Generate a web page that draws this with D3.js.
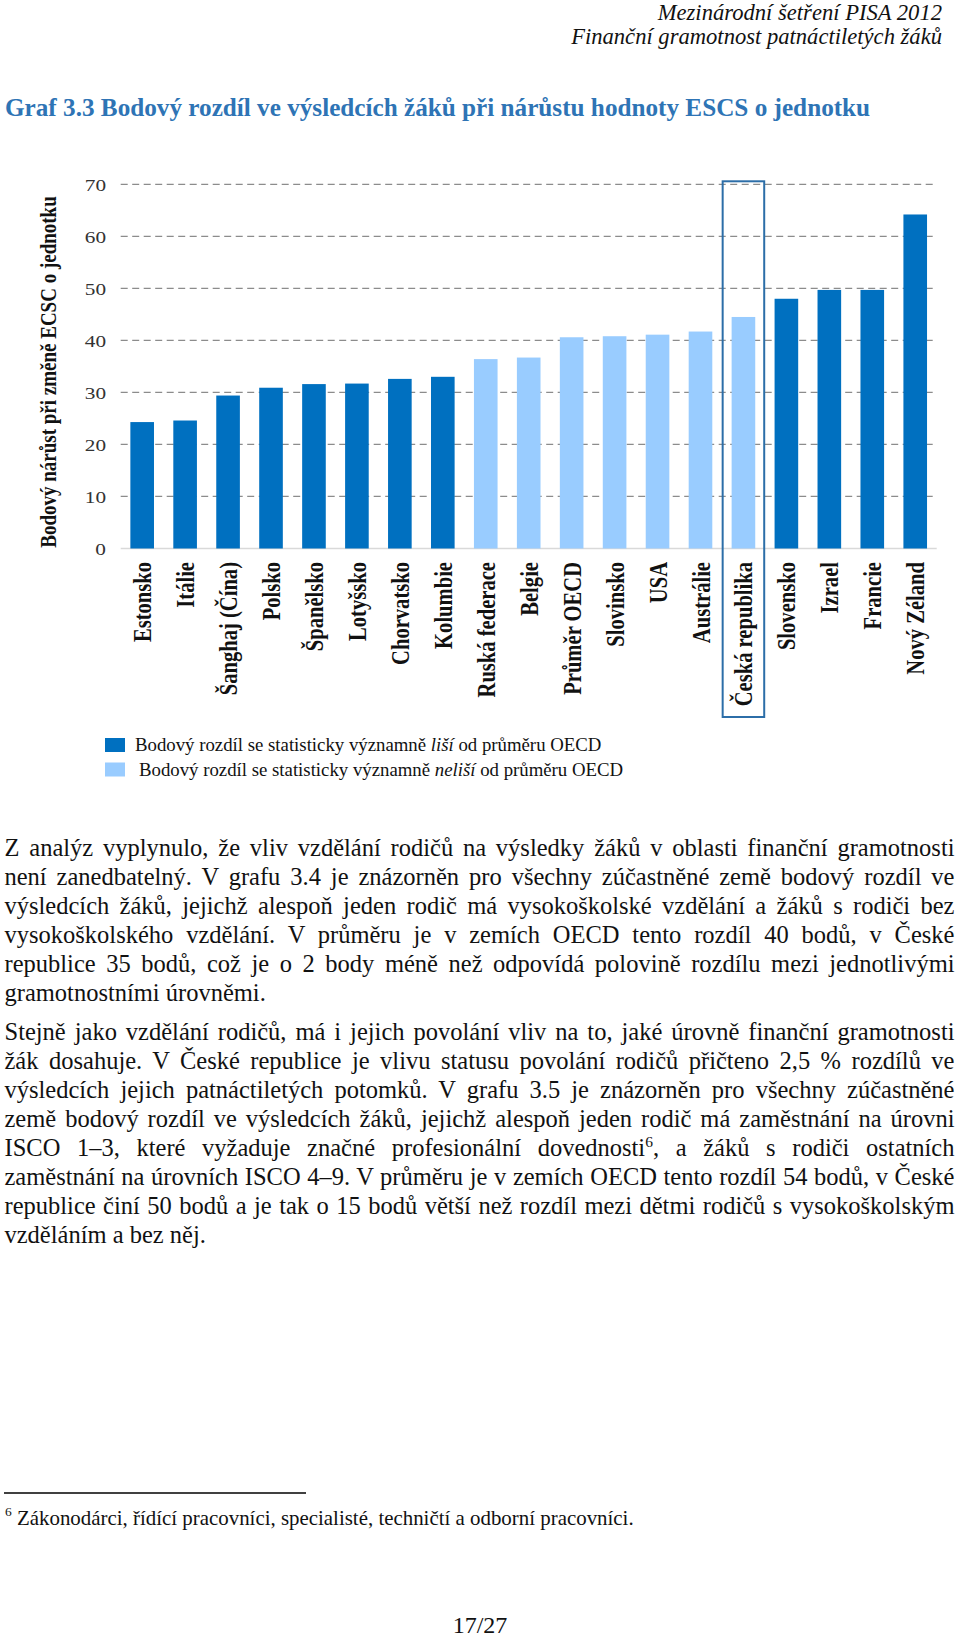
<!DOCTYPE html>
<html>
<head>
<meta charset="utf-8">
<script src="https://cdn.jsdelivr.net/npm/d3@7"></script>
<style>
html,body{margin:0;padding:0;background:#fff;}
svg{display:block;}
text{font-family:"Liberation Serif","Times New Roman",serif;}
</style>
</head>
<body>
<svg id="page" width="960" height="1637"></svg>
<script>
// ---------- DATA ----------
const categories = ["Estonsko","Itálie","Šanghaj (Čína)","Polsko","Španělsko","Lotyšsko","Chorvatsko","Kolumbie","Ruská federace","Belgie","Průměr OECD","Slovinsko","USA","Austrálie","Česká republika","Slovensko","Izrael","Francie","Nový Zéland"];
const values = [24.3, 24.6, 29.4, 30.9, 31.6, 31.7, 32.6, 33.0, 36.4, 36.7, 40.6, 40.8, 41.1, 41.7, 44.5, 48.0, 49.7, 49.7, 64.2];
// 1 = statistically significantly different from OECD average, 0 = not different
const significant = [1,1,1,1,1,1,1,1,0,0,0,0,0,0,0,1,1,1,1];
const yTicks = [0,10,20,30,40,50,60,70];
const highlighted = "Česká republika";

const headerLines = ["Mezinárodní šetření PISA 2012","Finanční gramotnost patnáctiletých žáků"];
const titleText = "Graf 3.3 Bodový rozdíl ve výsledcích žáků při nárůstu hodnoty ESCS o jednotku";
const yAxisTitle = "Bodový nárůst při změně ECSC o jednotku";
const legendItems = [
  {sig:1, parts:[["Bodový rozdíl se statisticky významně ",0],["liší",1],[" od průměru OECD",0]]},
  {sig:0, parts:[["Bodový rozdíl se statisticky významně ",0],["neliší",1],[" od průměru OECD",0]]}
];
const paragraph1 = [
  "Z analýz vyplynulo, že vliv vzdělání rodičů na výsledky žáků v oblasti finanční gramotnosti",
  "není zanedbatelný. V grafu 3.4 je znázorněn pro všechny zúčastněné země bodový rozdíl ve",
  "výsledcích žáků, jejichž alespoň jeden rodič má vysokoškolské vzdělání a žáků s rodiči bez",
  "vysokoškolského vzdělání. V průměru je v zemích OECD tento rozdíl 40 bodů, v České",
  "republice 35 bodů, což je o 2 body méně než odpovídá polovině rozdílu mezi jednotlivými",
  "gramotnostními úrovněmi."
];
const paragraph2 = [
  "Stejně jako vzdělání rodičů, má i jejich povolání vliv na to, jaké úrovně finanční gramotnosti",
  "žák dosahuje. V České republice je vlivu statusu povolání rodičů přičteno 2,5 % rozdílů ve",
  "výsledcích jejich patnáctiletých potomků. V grafu 3.5 je znázorněn pro všechny zúčastněné",
  "země bodový rozdíl ve výsledcích žáků, jejichž alespoň jeden rodič má zaměstnání na úrovni",
  "ISCO 1–3, které vyžaduje značné profesionální dovednosti^6^, a žáků s rodiči ostatních",
  "zaměstnání na úrovních ISCO 4–9. V průměru je v zemích OECD tento rozdíl 54 bodů, v České",
  "republice činí 50 bodů a je tak o 15 bodů větší než rozdíl mezi dětmi rodičů s vysokoškolským",
  "vzděláním a bez něj."
];
const footnoteMark = "6";
const footnoteText = "Zákonodárci, řídící pracovníci, specialisté, techničtí a odborní pracovníci.";
const pageNumber = "17/27";

// ---------- STYLE / LAYOUT ----------
const colDark = "#0070C0", colLight = "#99CCFF";
const titleColor = "#2E74B5";
const plot = {left:120.7, right:936.7, top:184.3, bottom:548.5};
const stretch = 1.25; // the chart image is horizontally stretched

const svg = d3.select("#page");

// header
svg.selectAll("text.hdr").data(headerLines).join("text")
  .attr("class","hdr")
  .attr("x",942).attr("y",(d,i)=>20+i*23.5)
  .attr("text-anchor","end")
  .attr("font-style","italic")
  .attr("font-size",22.6)
  .attr("fill","#111")
  .text(d=>d);

// title
svg.append("text")
  .attr("x",5).attr("y",116)
  .attr("font-size",25.2)
  .attr("font-weight","bold")
  .attr("fill",titleColor)
  .text(titleText);

// scales
const x = d3.scaleBand().domain(categories).range([plot.left, plot.right]).paddingInner(0.45).paddingOuter(0.225);
const y = d3.scaleLinear().domain([0,70]).range([plot.bottom, plot.top]);

const chart = svg.append("g");

// gridlines
chart.selectAll("line.grid").data(yTicks.filter(t=>t>0)).join("line")
  .attr("class","grid")
  .attr("x1",plot.left).attr("x2",plot.right)
  .attr("y1",d=>y(d)).attr("y2",d=>y(d))
  .attr("stroke","#8c8c8c").attr("stroke-width",1.3)
  .attr("stroke-dasharray","7,4.5");

// baseline
chart.append("line")
  .attr("x1",plot.left).attr("x2",plot.right)
  .attr("y1",y(0)).attr("y2",y(0))
  .attr("stroke","#d9d9d9").attr("stroke-width",1.3);

// y tick labels via axis
const yAxis = d3.axisLeft(y).tickValues(yTicks).tickSize(0).tickPadding(0).tickFormat(d3.format("d"));
const yAxisG = chart.append("g").attr("transform",`translate(106,0)`).call(yAxis);
yAxisG.select(".domain").remove();
yAxisG.selectAll("text")
  .attr("font-family","Liberation Serif")
  .attr("font-size",17)
  .attr("fill","#333")
  .attr("x",0).attr("dy","0.34em")
  .attr("transform",`scale(${stretch},1)`);

// bars
chart.selectAll("rect.bar").data(categories).join("rect")
  .attr("class","bar")
  .attr("x",d=>x(d))
  .attr("width",x.bandwidth())
  .attr("y",(d,i)=>y(values[i]))
  .attr("height",(d,i)=>y(0)-y(values[i]))
  .attr("fill",(d,i)=>significant[i]?colDark:colLight);

// x labels (rotated)
chart.selectAll("text.xl").data(categories).join("text")
  .attr("class","xl")
  .attr("transform",d=>`translate(${x(d)+x.bandwidth()/2},562) rotate(-90) scale(1,${stretch})`)
  .attr("text-anchor","end")
  .attr("dy","0.35em")
  .attr("font-size",20.6)
  .attr("font-weight","bold")
  .attr("fill","#111")
  .text(d=>d);

// highlight box around Czech Republic
const hx = x(highlighted)+x.bandwidth()/2;
const hw = x.step()-1.4;
chart.append("rect")
  .attr("x",hx-hw/2).attr("width",hw)
  .attr("y",y(70)-3).attr("height",717-(y(70)-3))
  .attr("fill","none").attr("stroke","#2C6EA8").attr("stroke-width",2);

// y axis title
chart.append("text")
  .attr("transform",`translate(56,${(196+548)/2}) rotate(-90) scale(1,${stretch})`)
  .attr("text-anchor","middle")
  .attr("font-size",19)
  .attr("font-weight","bold")
  .attr("fill","#111")
  .text(yAxisTitle);

// legend
const lg = svg.append("g");
legendItems.forEach((it,i)=>{
  const yy = 738 + i*24.5;
  lg.append("rect").attr("x",105).attr("y",yy).attr("width",20).attr("height",14)
    .attr("fill",it.sig?colDark:colLight);
  const t = lg.append("text").attr("x",135+i*4).attr("y",yy+13)
    .attr("font-size",18.8).attr("fill","#111");
  it.parts.forEach(p=>t.append("tspan").attr("font-style",p[1]?"italic":null).text(p[0]));
});

// body text
const bodyFont = 24.5, textLeft = 4.5, textWidth = 950;
function addLine(str, yy, justify){
  const t = svg.append("text").attr("x",textLeft).attr("y",yy)
    .attr("font-size",bodyFont).attr("fill","#111");
  const segs = str.split("^");
  segs.forEach((s,k)=>{
    if(k%2===1){
      t.append("tspan").attr("font-size",15.5).attr("dy",-9).text(s);
    } else {
      const ts = t.append("tspan").text(s);
      if(k>0) ts.attr("dy",9);
    }
  });
  if(justify){
    const w = t.node().getComputedTextLength();
    const n = (str.match(/ /g)||[]).length;
    if(n>0) t.style("word-spacing",((textWidth-w)/n)+"px");
  }
}
const lineStep = 29;
const p1start = 856;
paragraph1.forEach((s,i)=>addLine(s, p1start+i*lineStep, i<paragraph1.length-1));
const p2start = p1start + paragraph1.length*lineStep + 10;
paragraph2.forEach((s,i)=>addLine(s, p2start+i*lineStep, i<paragraph2.length-1));

// footnote
svg.append("line").attr("x1",4).attr("x2",306).attr("y1",1493).attr("y2",1493)
  .attr("stroke","#000").attr("stroke-width",1.3);
svg.append("text").attr("x",5).attr("y",1516).attr("font-size",13.5).attr("fill","#111").text(footnoteMark);
svg.append("text").attr("x",17).attr("y",1525).attr("font-size",20.9).attr("fill","#111").text(footnoteText);

// page number
svg.append("text").attr("x",480).attr("y",1633).attr("text-anchor","middle")
  .attr("font-size",24).attr("fill","#111").text(pageNumber);
</script>
</body>
</html>
